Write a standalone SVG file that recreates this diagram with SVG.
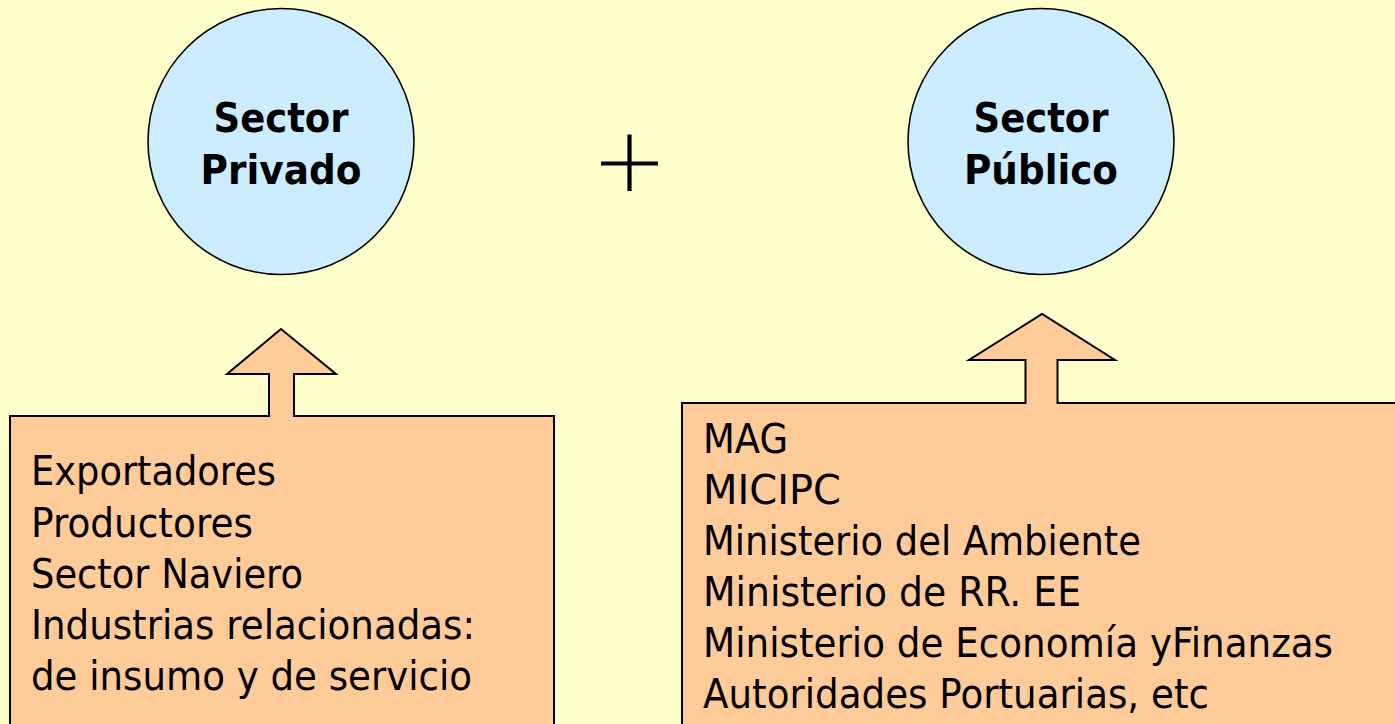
<svg xmlns="http://www.w3.org/2000/svg" width="1395" height="724" viewBox="0 0 1395 724">
<style>
.circ{fill:#CCECFF;stroke:#000;stroke-width:1.6}
.box{fill:#FFCC99;stroke:#000;stroke-width:2}
.arrfill{fill:#FFCC99;stroke:none}
.arrline{fill:none;stroke:#000;stroke-width:2;stroke-linejoin:miter}
.title{font-family:"DejaVu Sans","Liberation Sans",sans-serif;font-weight:bold;font-size:41px;fill:#000;text-anchor:middle}
.body{font-family:"DejaVu Sans","Liberation Sans",sans-serif;font-size:40px;fill:#000}
</style>
<rect x="0" y="0" width="1395" height="724" fill="#FFFFCC"/>
<g id="privado">
<circle class="circ" cx="281" cy="141.5" r="133"/>
<text class="title" x="281" y="132" textLength="135" lengthAdjust="spacingAndGlyphs">Sector</text>
<text class="title" x="281" y="184" textLength="161" lengthAdjust="spacingAndGlyphs">Privado</text>
</g>
<g id="plus">
<path d="M601 163.5H658M629.5 134.5V191" stroke="#000" stroke-width="4.2" fill="none"/>
</g>
<g id="publico">
<circle class="circ" cx="1041" cy="141.5" r="133"/>
<text class="title" x="1041" y="132" textLength="135" lengthAdjust="spacingAndGlyphs">Sector</text>
<text class="title" x="1041" y="184" textLength="154" lengthAdjust="spacingAndGlyphs">Público</text>
</g>
<g id="box-privado">
<rect class="box" x="10" y="416" width="544" height="340"/>
<text class="body" x="31" y="485" textLength="245" lengthAdjust="spacingAndGlyphs">Exportadores</text>
<text class="body" x="31" y="536.5" textLength="222" lengthAdjust="spacingAndGlyphs">Productores</text>
<text class="body" x="31" y="588" textLength="272" lengthAdjust="spacingAndGlyphs">Sector Naviero</text>
<text class="body" x="31" y="639" textLength="444" lengthAdjust="spacingAndGlyphs">Industrias relacionadas:</text>
<text class="body" x="31" y="690" textLength="441" lengthAdjust="spacingAndGlyphs">de insumo y de servicio</text>
</g>
<g id="box-publico">
<rect class="box" x="682" y="403" width="740" height="340"/>
<text class="body" x="703" y="452.5" textLength="85" lengthAdjust="spacingAndGlyphs">MAG</text>
<text class="body" x="703" y="503.7" textLength="138" lengthAdjust="spacingAndGlyphs">MICIPC</text>
<text class="body" x="703" y="555" textLength="438" lengthAdjust="spacingAndGlyphs">Ministerio del Ambiente</text>
<text class="body" x="703" y="606" textLength="378" lengthAdjust="spacingAndGlyphs">Ministerio de RR. EE</text>
<text class="body" x="703" y="657" textLength="630" lengthAdjust="spacingAndGlyphs">Ministerio de Economía yFinanzas</text>
<text class="body" x="703" y="708" textLength="506" lengthAdjust="spacingAndGlyphs">Autoridades Portuarias, etc</text>
</g>
<g id="connectors">
<polygon class="arrfill" points="269,419 269,374 227,374 281,329 336,374 294,374 294,419"/>
<polyline class="arrline" points="269,417 269,374 227,374 281,329 336,374 294,374 294,417"/>
<polygon class="arrfill" points="1025.5,406 1025.5,360 969,360 1042,314 1115,360 1057.5,360 1057.5,406"/>
<polyline class="arrline" points="1025.5,404 1025.5,360 969,360 1042,314 1115,360 1057.5,360 1057.5,404"/>
</g>
</svg>
